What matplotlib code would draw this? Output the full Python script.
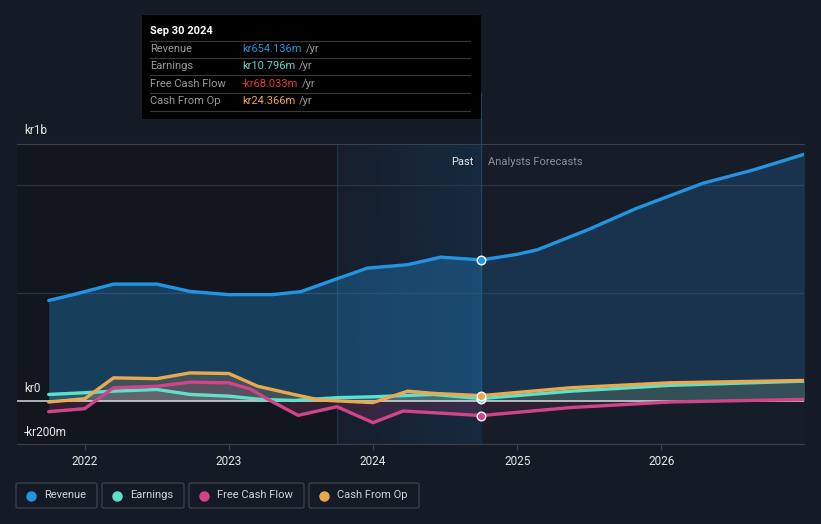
import matplotlib.pyplot as plt
import numpy as np
from matplotlib.patches import Rectangle, FancyBboxPatch
from matplotlib.lines import Line2D

plt.rcParams['font.family'] = ['Roboto', 'DejaVu Sans']

# values in kr millions, x in fractional years
rev_years = [2021.75, 2021.92, 2022.2, 2022.5, 2022.73, 2023.0, 2023.3, 2023.5, 2023.73, 2023.96, 2024.24, 2024.47, 2024.75]
rev = [466, 493, 542, 542, 508, 493, 493, 507, 562, 616, 632, 667, 654.136]
rev_fc_years = [2024.75, 2025.0, 2025.14, 2025.49, 2025.83, 2026.29, 2026.64, 2027.0]
rev_fc = [654.136, 680, 701, 794, 894, 1010, 1072, 1146]

earn_years = [2021.75, 2022.0, 2022.2, 2022.5, 2022.73, 2023.0, 2023.22, 2023.45, 2023.75, 2024.0, 2024.42, 2024.75]
earn = [30, 38, 45, 53, 30, 22, 7, 2, 15, 19, 30, 10.796]
earn_fc_years = [2024.75, 2025.37, 2026.06, 2027.0]
earn_fc = [10.796, 45, 72, 92]

fcf_years = [2021.75, 2022.0, 2022.2, 2022.5, 2022.73, 2023.0, 2023.15, 2023.25, 2023.48, 2023.75, 2024.0, 2024.21, 2024.5, 2024.75]
fcf = [-50, -36, 61, 68, 87, 84, 55, 15, -67, -27, -101, -47, -58, -68.033]
fcf_fc_years = [2024.75, 2025.37, 2026.06, 2027.0]
fcf_fc = [-68.033, -31, -5, 7]

cfo_years = [2021.75, 2022.0, 2022.2, 2022.5, 2022.73, 2023.0, 2023.2, 2023.45, 2023.63, 2024.0, 2024.24, 2024.42, 2024.75]
cfo = [-5, 10, 107, 103, 130, 127, 68, 30, 4, -8, 45, 35, 24.366]
cfo_fc_years = [2024.75, 2025.37, 2026.06, 2027.0]
cfo_fc = [24.366, 61, 84, 95]

year_ticks = [2022, 2023, 2024, 2025, 2026]
now = 2024.75

names = ['Revenue', 'Earnings', 'Free Cash Flow', 'Cash From Op']
colors = ['#2394df', '#5fe0cb', '#d0458a', '#eba94f']
tip_values = ['kr654.136m', 'kr10.796m', '-kr68.033m', 'kr24.366m']
tip_colors = ['#2394df', '#5fd9cf', '#e5363f', '#eba94f']

bg = '#151b26'
W, H = 821, 524
fig = plt.figure(figsize=(W / 100, H / 100), dpi=100, facecolor=bg)
ax = fig.add_axes([17 / W, 1 - 444 / H, (804 - 17) / W, (444 - 144) / H])
ax.set_facecolor('#161d29')
ax.set_xlim(2021.53, 2026.99)
ax.set_ylim(-200, 1192)

# background regions
ax.axvspan(2021.53, now - 1, color='#12171f', zorder=0, lw=0)
grad = np.zeros((2, 256, 4))
grad[:, :, :3] = np.array([0x16, 0x3a, 0x5a]) / 255
grad[:, :, 3] = np.linspace(0.05, 0.45, 256)
ax.imshow(grad, extent=[now - 1, now, -200, 1192], aspect='auto', zorder=0.5)
ax.axvline(now - 1, color='#1d3650', lw=0.8, zorder=0.6)

# grid
for g in [500, 1000]:
    ax.axhline(g, color='#2c333f', lw=0.9, zorder=1)
ax.axhline(0, color='#d8dbe0', lw=1.1, zorder=3)
for s in ['left', 'right']:
    ax.spines[s].set_visible(False)
ax.spines['top'].set_color('#3a414d')
ax.spines['bottom'].set_color('#3a414d')

series = [
    (rev_years, rev, rev_fc_years, rev_fc, 0.32),
    (earn_years, earn, earn_fc_years, earn_fc, 0.18),
    (fcf_years, fcf, fcf_fc_years, fcf_fc, 0.18),
    (cfo_years, cfo, cfo_fc_years, cfo_fc, 0.18),
]
for (xp, yp, xf, yf, a), col in zip(series, colors):
    ax.fill_between(xp, yp, 0, color=col, alpha=a, lw=0, zorder=2)
    ax.fill_between(xf, yf, 0, color=col, alpha=a * 0.6, lw=0, zorder=2)
    ax.plot(xp, yp, color=col, lw=2.4, zorder=4, solid_capstyle='round', solid_joinstyle='round')
    ax.plot(xf, yf, color=col, lw=2.4, zorder=4, solid_capstyle='round', solid_joinstyle='round')

ax.plot([now, now], [0, 1192 * 1.2], color='#24425f', lw=0.9, zorder=1, clip_on=False)
for (xp, yp, xf, yf, a), col in zip(series, colors):
    ax.scatter([now], [yp[-1]], s=38, color=col, edgecolor='white', lw=1.0, zorder=6)

ax.set_xticks(year_ticks)
ax.set_xticklabels([str(y) for y in year_ticks])
ax.tick_params(axis='x', colors='#3a414d', labelcolor='#e8e8e8', labelsize=8.5, length=4, pad=4)
ax.set_yticks([])

# y labels
for lab, py in [('kr1b', 131), ('kr0', 389), ('-kr200m', 432)]:
    fig.text(24 / W, 1 - py / H, lab, color='#e8e8e8', fontsize=8.5, va='center', ha='left')

ax.text(now - 0.05, 1110, 'Past', color='#e8e8e8', fontsize=8, ha='right', va='center')
ax.text(now + 0.05, 1110, 'Analysts Forecasts', color='#8a9099', fontsize=8, ha='left', va='center')

# tooltip
fig.patches.append(Rectangle((142 / W, 1 - 119 / H), (481 - 142) / W, (119 - 15) / H,
                             transform=fig.transFigure, facecolor='black', edgecolor='none', zorder=10))
fig.text(150 / W, 1 - 31 / H, 'Sep 30 2024', color='white', fontsize=8, fontweight='bold', va='center', zorder=11)
for py in [41, 58, 75, 93, 111]:
    fig.add_artist(Line2D([150 / W, 470 / W], [1 - py / H, 1 - py / H], color='#3a3a3a', lw=0.8, zorder=11))
fig.canvas.draw()
r = fig.canvas.get_renderer()
for i, py in enumerate([49, 66, 84, 101]):
    fig.text(150 / W, 1 - py / H, names[i], color='#9a9a9a', fontsize=8, va='center', zorder=11)
    t = fig.text(242 / W, 1 - py / H, tip_values[i], color=tip_colors[i], fontsize=8, va='center', zorder=11)
    bb = t.get_window_extent(r)
    fig.text(bb.x1 / W + 4 / W, 1 - py / H, '/yr', color='#9a9a9a', fontsize=8, va='center', zorder=11)

# legend
boxes = [(16, 97), (102, 184), (189, 304), (309, 419)]
for (x0, x1), name, col in zip(boxes, names, colors):
    fig.patches.append(FancyBboxPatch((x0 / W, 1 - 508 / H), (x1 - x0) / W, 25 / H,
                                      boxstyle='round,pad=0,rounding_size=0.003',
                                      transform=fig.transFigure, facecolor='none',
                                      edgecolor='#3a404b', lw=1))
    fig.add_artist(Line2D([(x0 + 15) / W], [1 - 495.5 / H], marker='o', ms=6.5, color=col, lw=0))
    fig.text((x0 + 28) / W, 1 - 495.5 / H, name, color='#d0d3d8', fontsize=8, va='center')

fig.savefig('out.png', dpi=100, facecolor=bg)
